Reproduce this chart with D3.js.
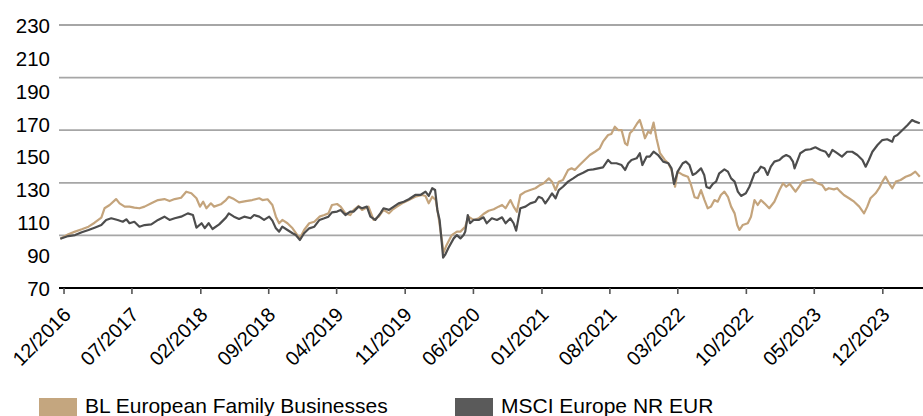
<!DOCTYPE html>
<meta charset="utf-8">
<script src="https://d3js.org/d3.v7.min.js"></script>
<style>
  body { margin: 0; background: #fff; }
  text { font-family: "Liberation Sans", Arial, sans-serif; fill: #000; }
</style>
<div id="chart"></div>
<script>

// series names and colours
var seriesNames = ["BL European Family Businesses", "MSCI Europe NR EUR"];
var seriesColors = ["#c4a47c", "#4d4d4d"];
var swatchColors = ["#c4a67f", "#5a5a5a"];

// BL European Family Businesses (rebased to 100)
var blDates = ["2016-11-21","2016-12-16","2017-01-06","2017-01-27","2017-02-17","2017-03-08","2017-03-29","2017-04-08","2017-04-24","2017-05-14","2017-05-25","2017-06-10","2017-06-25","2017-07-10","2017-07-26","2017-08-11","2017-09-01","2017-09-22","2017-10-12","2017-10-28","2017-11-13","2017-12-03","2017-12-19","2018-01-04","2018-01-20","2018-01-31","2018-02-10","2018-02-20","2018-03-06","2018-03-16","2018-04-06","2018-04-22","2018-05-01","2018-05-17","2018-06-02","2018-06-23","2018-07-13","2018-08-04","2018-08-14","2018-08-30","2018-09-14","2018-09-25","2018-10-05","2018-10-15","2018-10-31","2018-11-16","2018-12-01","2018-12-09","2018-12-22","2019-01-07","2019-01-23","2019-02-08","2019-02-23","2019-03-08","2019-03-19","2019-04-04","2019-04-15","2019-04-30","2019-05-15","2019-05-26","2019-06-10","2019-06-21","2019-07-11","2019-07-27","2019-08-12","2019-08-27","2019-09-13","2019-09-23","2019-10-08","2019-10-24","2019-11-14","2019-12-04","2019-12-25","2020-01-05","2020-01-15","2020-01-26","2020-02-06","2020-02-16","2020-02-25","2020-03-01","2020-03-11","2020-03-27","2020-04-12","2020-04-23","2020-05-08","2020-05-18","2020-06-03","2020-06-19","2020-07-04","2020-07-20","2020-08-05","2020-08-20","2020-08-31","2020-09-11","2020-09-26","2020-10-06","2020-10-16","2020-10-27","2020-11-12","2020-11-27","2020-12-13","2020-12-28","2021-01-08","2021-01-24","2021-02-03","2021-02-14","2021-02-24","2021-03-09","2021-03-25","2021-04-05","2021-04-15","2021-04-30","2021-05-16","2021-06-01","2021-06-17","2021-07-02","2021-07-12","2021-07-28","2021-08-07","2021-08-18","2021-08-28","2021-09-08","2021-09-19","2021-09-26","2021-10-04","2021-10-14","2021-10-27","2021-11-04","2021-11-12","2021-11-20","2021-11-30","2021-12-08","2021-12-17","2021-12-26","2022-01-06","2022-01-21","2022-02-01","2022-02-11","2022-02-22","2022-03-02","2022-03-18","2022-04-03","2022-04-13","2022-04-24","2022-05-04","2022-05-14","2022-05-25","2022-06-04","2022-06-14","2022-06-25","2022-07-05","2022-07-15","2022-07-26","2022-08-06","2022-08-16","2022-08-27","2022-09-04","2022-09-11","2022-09-21","2022-10-07","2022-10-17","2022-10-28","2022-11-07","2022-11-17","2022-11-28","2022-12-13","2022-12-29","2023-01-14","2023-01-25","2023-02-04","2023-02-15","2023-02-25","2023-03-05","2023-03-16","2023-03-26","2023-04-11","2023-04-26","2023-05-12","2023-05-27","2023-06-07","2023-06-17","2023-07-03","2023-07-13","2023-07-23","2023-08-03","2023-08-19","2023-09-04","2023-09-20","2023-10-05","2023-10-15","2023-10-25","2023-11-10","2023-11-21","2023-12-01","2023-12-11","2023-12-22","2024-01-01","2024-01-12","2024-01-27","2024-02-12","2024-02-28","2024-03-13","2024-03-27"];
var blValues = [100,102.7,104.3,105.7,107.3,109.7,112.8,118.5,120.5,124.1,121.5,119.5,119.5,118.9,118.5,119.5,121.5,123.5,124.1,122.9,124.1,124.9,128.6,127.6,124.6,119.5,122.5,118.5,121.5,119.5,120.9,123.5,125.5,124.1,122.1,122.9,123.5,124.6,123.5,124,120.5,113.4,109.4,111.4,109.4,106.3,102.2,100.2,105.3,109.4,110.3,113.4,114.4,115.4,120.5,121.1,119.5,115.4,114.4,117.5,119.9,117.5,119.5,111.4,113.4,117.5,115.4,117.5,119.5,121.5,123.5,125.5,126.6,126,121.5,125.5,123.5,111.4,99.2,91.5,96.2,102.2,104.3,104.3,107.3,113.4,111.4,112.4,115,117,117.9,119.5,120.5,118.5,123.5,119.5,116.4,126.6,128.6,129.6,130.7,132.7,133.7,136.7,134.7,129.6,134.7,135.7,141.8,142.8,141.8,144.8,147.9,150.9,152.9,155,159,163.1,163.7,168.1,166.1,166.1,158,157,164.1,166.1,170.2,172.2,167.1,161.1,165.1,164.1,170.6,161.1,152,147.9,145.9,141.8,131.6,140.8,138.8,137.7,132.7,125.2,124.6,129.6,123.5,118.5,119.5,123.5,122.5,126.6,128.6,125.5,119.5,115.4,108.3,105.3,108.3,109.4,113.4,123.5,120.5,123.5,121.5,118.5,122.5,129.6,133.7,131.6,133.3,130.7,128.6,131.6,134.7,135.7,136.1,133.7,132.7,129.6,130.7,130,130.7,128.6,126.6,124.6,122.5,119.5,115.4,119.5,124.6,127.6,130.7,134.7,137.7,133.7,130.7,134.7,135.7,137.7,138.8,140.8,137.7];

// MSCI Europe NR EUR (rebased to 100)
var msciDates = ["2016-11-21","2016-12-16","2017-01-06","2017-01-27","2017-02-17","2017-03-08","2017-03-29","2017-04-13","2017-04-29","2017-05-19","2017-06-04","2017-06-15","2017-06-25","2017-07-10","2017-07-26","2017-08-11","2017-09-01","2017-09-22","2017-10-12","2017-10-28","2017-11-13","2017-12-03","2017-12-24","2018-01-09","2018-01-20","2018-02-05","2018-02-15","2018-02-27","2018-03-11","2018-04-01","2018-04-22","2018-05-01","2018-05-17","2018-06-02","2018-06-18","2018-07-08","2018-07-19","2018-08-04","2018-08-19","2018-09-04","2018-09-14","2018-09-25","2018-10-05","2018-10-15","2018-10-31","2018-11-16","2018-11-26","2018-12-09","2018-12-22","2019-01-07","2019-01-23","2019-02-08","2019-02-23","2019-03-08","2019-03-19","2019-04-04","2019-04-15","2019-04-30","2019-05-15","2019-05-26","2019-06-10","2019-06-21","2019-07-06","2019-07-17","2019-08-01","2019-08-17","2019-08-27","2019-09-13","2019-09-28","2019-10-13","2019-10-29","2019-11-14","2019-12-04","2019-12-20","2020-01-05","2020-01-15","2020-01-26","2020-02-04","2020-02-11","2020-02-18","2020-02-25","2020-02-29","2020-03-06","2020-03-16","2020-04-02","2020-04-12","2020-04-23","2020-05-03","2020-05-08","2020-05-16","2020-05-23","2020-06-03","2020-06-19","2020-07-04","2020-07-14","2020-07-30","2020-08-15","2020-08-31","2020-09-11","2020-09-26","2020-10-06","2020-10-14","2020-10-27","2020-11-12","2020-11-27","2020-12-13","2020-12-23","2021-01-03","2021-01-13","2021-01-24","2021-02-03","2021-02-14","2021-02-24","2021-03-09","2021-03-25","2021-04-10","2021-04-26","2021-05-11","2021-05-27","2021-06-12","2021-06-27","2021-07-12","2021-07-28","2021-08-07","2021-08-23","2021-09-08","2021-09-19","2021-09-29","2021-10-09","2021-10-25","2021-11-04","2021-11-12","2021-11-25","2021-12-05","2021-12-17","2021-12-31","2022-01-16","2022-02-01","2022-02-11","2022-02-19","2022-03-02","2022-03-18","2022-03-28","2022-04-08","2022-04-18","2022-04-28","2022-05-14","2022-05-24","2022-05-31","2022-06-10","2022-06-20","2022-06-30","2022-07-10","2022-07-26","2022-08-06","2022-08-16","2022-08-27","2022-09-06","2022-09-16","2022-10-01","2022-10-12","2022-10-28","2022-11-07","2022-11-17","2022-11-28","2022-12-08","2022-12-18","2022-12-29","2023-01-14","2023-01-25","2023-02-04","2023-02-15","2023-02-25","2023-03-02","2023-03-10","2023-03-20","2023-04-05","2023-04-21","2023-05-06","2023-05-22","2023-06-07","2023-06-17","2023-06-28","2023-07-13","2023-07-28","2023-08-13","2023-08-29","2023-09-14","2023-09-30","2023-10-10","2023-10-20","2023-10-31","2023-11-16","2023-12-01","2023-12-16","2024-01-01","2024-01-07","2024-01-17","2024-02-02","2024-02-18","2024-03-03","2024-03-13","2024-03-27"];
var msciValues = [100,101.6,102.2,103.9,105.3,106.7,108.3,111.4,112.4,111.4,110.3,111.8,109.4,110.3,107.3,108.3,108.7,111.4,113.4,111.4,112.4,113.4,115.4,114.4,106.7,109.4,106.4,109.4,105.9,108.7,112.8,115.4,113.4,112,113.4,112.4,114.4,113.4,111.4,113.4,111,106.3,104.3,107.3,105.3,103.3,102.2,99.2,103.3,106.3,107.3,111.4,112.4,113.4,116,116.5,117.5,114.4,116.5,116.5,119.5,118.5,119.5,113.4,111.4,115.4,118.5,117.5,119.5,121.5,122.5,124,126.6,126.6,128.6,126,130.7,129.6,117.5,111.4,97.2,88.5,90.1,94.2,100.2,102.2,100.2,102.2,104.3,114.4,109.4,111.4,111.4,113,109.4,112.4,111.4,113,109.4,112.4,109.4,104.9,118.5,119.5,121.5,122.5,125.5,124.6,121.5,124.6,127.6,124.6,129.6,131.6,134.7,136.7,138.8,140.1,141.8,142.2,142.8,143.4,147.9,145.9,145.9,144.8,141.8,145.9,147.9,148.9,152,144.8,149.9,149.9,152.9,150.9,146.9,145.9,142.8,133.3,140.8,145.9,146.9,144.8,138.8,139.8,142.8,138.8,131.5,130.7,133.3,134.7,139.8,142.2,140.8,136.7,134.7,128.6,126,127.6,131.6,139.8,140.8,143.8,142.8,138.8,143.8,146.9,147.9,149.9,150.9,149.9,146.9,142.8,146.9,152,154,154.4,155.6,154,152.9,149.9,154,152,149.9,152.9,152.9,150.9,147.9,143.8,147.9,152.9,157,160,160.5,159,162.1,163.1,166.1,169.2,172.2,171.2,170.2];

// axis labels and gridlines
var yTickValues = [230, 210, 190, 170, 150, 130, 110, 90, 70];
var gridValues = [70, 102, 134, 166, 198, 230];
var xTickDates = ["2016-12-01","2017-07-01","2018-02-01","2018-09-01","2019-04-01","2019-11-01","2020-06-01","2021-01-01","2021-08-01","2022-03-01","2022-10-01","2023-05-01","2023-12-01"];

var width = 923, height = 416;
var parseDate = d3.timeParse("%Y-%m-%d");

var svg = d3.select("#chart")
    .append("svg")
    .attr("width", width)
    .attr("height", height);

var x = d3.scaleTime()
    .domain([parseDate("2016-11-20"), parseDate("2024-04-06")])
    .range([60, width]);

var y = d3.scaleLinear()
    .domain([70, 230])
    .range([288, 25]);

// gridlines
svg.append("g")
    .selectAll("line")
    .data(gridValues)
    .enter()
    .append("line")
    .attr("x1", 59)
    .attr("x2", width)
    .attr("y1", function(d) { return y(d); })
    .attr("y2", function(d) { return y(d); })
    .style("stroke", "#a6a6a6")
    .style("stroke-width", 1.8);

// y labels
var yAxis = svg.append("g")
    .attr("transform", "translate(50,0)")
    .call(d3.axisLeft(y).tickValues(yTickValues).tickSize(0).tickPadding(0).tickFormat(d3.format("d")));
yAxis.select(".domain").remove();
yAxis.selectAll("text")
    .style("font-size", "20.5px")
    .style("font-family", "'Liberation Sans', Arial, sans-serif")
    .attr("dy", "0.36em");

// x axis
var xAxis = svg.append("g")
    .attr("transform", "translate(0,288)")
    .call(d3.axisBottom(x)
        .tickValues(xTickDates.map(parseDate))
        .tickSizeInner(6)
        .tickSizeOuter(0)
        .tickFormat(d3.timeFormat("%m/%Y")));
xAxis.select(".domain")
    .attr("d", "M59,0H" + width)
    .style("stroke", "#000")
    .style("stroke-width", 2.2);
xAxis.selectAll(".tick line")
    .style("stroke", "#555")
    .style("stroke-width", 1.6);
xAxis.selectAll(".tick text")
    .style("font-size", "20px")
    .style("font-family", "'Liberation Sans', Arial, sans-serif")
    .attr("text-anchor", "end")
    .attr("x", 0)
    .attr("y", 0)
    .attr("dy", 0)
    .attr("transform", "translate(8,28) rotate(-45)");

// lines
var line = d3.line()
    .x(function(d) { return x(d.date); })
    .y(function(d) { return y(d.value); });

var series = [
    blDates.map(function(d, i) { return {date: parseDate(d), value: blValues[i]}; }),
    msciDates.map(function(d, i) { return {date: parseDate(d), value: msciValues[i]}; })
];

svg.selectAll(".series")
    .data(series)
    .enter()
    .append("path")
    .attr("class", "series")
    .attr("d", line)
    .style("fill", "none")
    .style("stroke", function(d, i) { return seriesColors[i]; })
    .style("stroke-width", 2.2)
    .style("stroke-linejoin", "round");

// legend
var legendX = [39, 455];
var legend = svg.selectAll(".legend")
    .data(seriesNames)
    .enter()
    .append("g")
    .attr("class", "legend")
    .attr("transform", function(d, i) { return "translate(" + legendX[i] + ",398)"; });

legend.append("rect")
    .attr("width", 38)
    .attr("height", 20)
    .style("fill", function(d, i) { return swatchColors[i]; });

legend.append("text")
    .attr("x", 46)
    .attr("y", 15)
    .style("font-size", "21px")
    .text(function(d) { return d; });

</script>
